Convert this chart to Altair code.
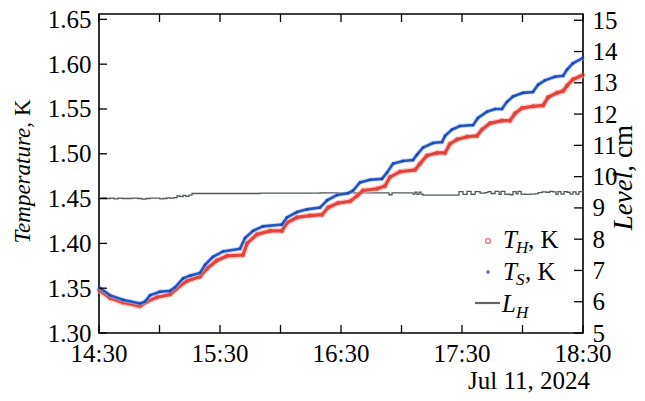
import altair as alt
import pandas as pd

# ---------------- data ----------------
# time axis: minutes after 14:30 on Jul 11, 2024
start_clock_min = 14 * 60 + 30

ts_min = [0, 5.5, 11.9, 20.3, 22.8, 25.3, 30.2, 35.2, 37.7, 41.7, 45.1, 50.1, 52.6, 56.5,
          61.5, 69.9, 72.4, 76.4, 81.3, 90.7, 93.2, 98.2, 103.1, 109.6, 113.1, 118.0, 123.5,
          126.0, 129.4, 134.4, 140.3, 142.8, 145.8, 150.7, 155.7, 157.7, 160.7, 165.6, 170.1,
          171.6, 175.0, 179.0, 185.5, 187.9, 192.4, 196.4, 199.8, 202.3, 205.3, 210.2, 215.2,
          217.7, 221.1, 226.1, 230.1, 232.1, 235.0, 240]
ts_val = [1.351, 1.342, 1.337, 1.333, 1.335, 1.342, 1.346, 1.347, 1.351, 1.361, 1.364, 1.367,
          1.376, 1.385, 1.391, 1.394, 1.406, 1.414, 1.419, 1.421, 1.429, 1.435, 1.438, 1.440,
          1.448, 1.454, 1.456, 1.459, 1.468, 1.471, 1.472, 1.479, 1.489, 1.492, 1.493, 1.499,
          1.507, 1.512, 1.513, 1.520, 1.527, 1.531, 1.532, 1.540, 1.547, 1.550, 1.550, 1.558,
          1.564, 1.568, 1.569, 1.577, 1.582, 1.586, 1.587, 1.594, 1.601, 1.607]

th_min = [0, 5.5, 11.9, 20.3, 23.8, 28.8, 35.2, 38.7, 43.6, 50.1, 53.6, 58.5, 63.5, 71.4, 73.4,
          78.3, 84.8, 90.7, 93.2, 98.2, 104.6, 110.6, 113.6, 118.5, 124.5, 127.9, 130.9, 137.9,
          141.8, 144.3, 149.3, 156.7, 159.2, 162.6, 167.6, 171.6, 174.0, 177.5, 182.5, 187.4,
          189.9, 193.9, 199.8, 203.8, 206.3, 209.8, 215.2, 220.2, 222.7, 227.1, 230.1, 232.1,
          235.0, 240]
th_val = [1.348, 1.339, 1.334, 1.330, 1.335, 1.340, 1.343, 1.350, 1.358, 1.363, 1.372, 1.381,
          1.386, 1.387, 1.400, 1.410, 1.414, 1.414, 1.423, 1.429, 1.431, 1.432, 1.440, 1.445,
          1.447, 1.453, 1.459, 1.461, 1.464, 1.474, 1.480, 1.482, 1.489, 1.498, 1.501, 1.501,
          1.511, 1.516, 1.519, 1.520, 1.527, 1.534, 1.537, 1.537, 1.545, 1.551, 1.553, 1.554,
          1.563, 1.568, 1.570, 1.576, 1.583, 1.588]

lh_min = [0, 2.0, 3.5, 5.5, 7.4, 9.4, 11.4, 13.9, 16.4, 19.3, 21.3, 23.3, 25.3, 27.8, 30.2,
          31.7, 33.7, 35.2, 37.2, 38.7, 40.2, 41.7, 43.1, 44.6, 46.1, 50.1, 65.0, 79.8, 94.7,
          109.6, 124.5, 141.8, 143.8, 145.3, 154.2, 155.7, 156.7, 157.7, 158.7, 159.7, 160.7,
          169.1, 177.5, 178.5, 180.0, 180.5, 182.0, 182.5, 184.0, 184.5, 186.0, 186.5, 188.0,
          189.0, 191.4, 192.9, 194.4, 195.9, 196.4, 197.9, 198.4, 199.4, 200.8, 201.3, 202.8,
          203.8, 205.3, 206.8, 207.8, 209.3, 211.3, 213.7, 216.2, 217.7, 219.7, 221.7, 223.6,
          225.1, 226.6, 227.6, 229.1, 230.6, 232.1, 233.6, 235.0, 236.5, 238.0, 240]
lh_val = [9.31, 9.32, 9.30, 9.31, 9.29, 9.31, 9.30, 9.30, 9.31, 9.30, 9.28, 9.30, 9.31, 9.31,
          9.29, 9.30, 9.32, 9.31, 9.33, 9.38, 9.36, 9.40, 9.37, 9.41, 9.46, 9.46, 9.46, 9.47,
          9.47, 9.48, 9.48, 9.48, 9.42, 9.48, 9.48, 9.44, 9.50, 9.43, 9.50, 9.44, 9.41, 9.41,
          9.41, 9.52, 9.52, 9.43, 9.43, 9.53, 9.53, 9.43, 9.44, 9.52, 9.52, 9.47, 9.49, 9.52,
          9.46, 9.46, 9.53, 9.53, 9.43, 9.53, 9.53, 9.43, 9.44, 9.42, 9.52, 9.45, 9.53, 9.44,
          9.43, 9.44, 9.45, 9.49, 9.51, 9.50, 9.53, 9.51, 9.43, 9.52, 9.44, 9.52, 9.50, 9.44,
          9.51, 9.44, 9.52, 9.50]

temp_ticks = [1.30, 1.35, 1.40, 1.45, 1.50, 1.55, 1.60, 1.65]
level_ticks = [5, 6, 7, 8, 9, 10, 11, 12, 13, 14, 15]
time_tick_min = [0, 30, 60, 90, 120, 150, 180, 210, 240]
time_label_min = [0, 60, 120, 180, 240]
date_text = "Jul 11, 2024"
left_title = ["Temperature,", "K"]
right_title = ["Level,", "cm"]

# ---------------- layout / style ----------------
W, H = 484, 319
FONT = "Liberation Serif"
RED = "#e6423b"
BLUE = "#2356c4"
GRAY = "#4f5858"

df_ts = pd.DataFrame({"m": ts_min, "v": ts_val})
df_th = pd.DataFrame({"m": th_min, "v": th_val})
df_lh = pd.DataFrame({"m": lh_min, "v": lh_val})
df_xt = pd.DataFrame({"m": time_tick_min})
df_xl = pd.DataFrame({"m": time_label_min})
df_tt = pd.DataFrame({"v": temp_ticks})
df_lt = pd.DataFrame({"v": level_ticks})
one = pd.DataFrame({"a": [0]})

xscale = alt.Scale(domain=[0, 240], nice=False, zero=False)
tscale = alt.Scale(domain=[1.30, 1.656], nice=False, zero=False)
lscale = alt.Scale(domain=[5, 15.2], nice=False, zero=False)

clock = f"(datum.m + {start_clock_min})"
time_label_expr = f"floor({clock} / 60) + ':' + (({clock} % 60) < 10 ? '0' : '') + ({clock} % 60)"

taxis = alt.Axis(orient="left", values=temp_ticks, format=".2f", ticks=False,
                 domain=False, grid=False, labelFont=FONT, labelFontSize=25,
                 labelColor="black", labelPadding=8, labelOverlap=False, title=None)
laxis = alt.Axis(orient="right", values=level_ticks, format="d", ticks=False,
                 domain=False, grid=False, labelFont=FONT, labelFontSize=25,
                 labelColor="black", labelPadding=9, labelOverlap=False, title=None)


def X():
    return alt.X("m:Q", scale=xscale, axis=None)


def YT(ax=None):
    return alt.Y("v:Q", scale=tscale, axis=ax)


def YL(ax=None):
    return alt.Y("v:Q", scale=lscale, axis=ax)


# level (drawn first, underneath)
lh_line = alt.Chart(df_lh).mark_line(color=GRAY, strokeWidth=1.3,
                                     interpolate="step-after").encode(x=X(), y=YL(laxis))
right_ticks = alt.Chart(df_lt).mark_rule(color="black", strokeWidth=1.3).encode(
    y=YL(), x=alt.value(W - 9), x2=alt.value(W))

# temperatures
th_halo = alt.Chart(df_th).mark_line(color="#f6b3ad", strokeWidth=6, opacity=0.6).encode(
    x=X(), y=YT(taxis))
th_line = alt.Chart(df_th).mark_line(color=RED, strokeWidth=3.2).encode(x=X(), y=YT())
th_pts = alt.Chart(df_th).mark_point(shape="circle", filled=False, color=RED, size=14,
                                     strokeWidth=1).encode(x=X(), y=YT())
ts_halo = alt.Chart(df_ts).mark_line(color="#a9bfe8", strokeWidth=4.5, opacity=0.6).encode(
    x=X(), y=YT())
ts_line = alt.Chart(df_ts).mark_line(color=BLUE, strokeWidth=2.6).encode(x=X(), y=YT())
ts_pts = alt.Chart(df_ts).mark_point(shape="cross", angle=45, filled=True, color="#1d3fa8",
                                     size=10).encode(x=X(), y=YT())
left_ticks = alt.Chart(df_tt).mark_rule(color="black", strokeWidth=1.3).encode(
    y=YT(), x=alt.value(0), x2=alt.value(8))

# inward frame ticks on x, and the time labels
xt_bottom = alt.Chart(df_xt).mark_rule(color="black", strokeWidth=1.3).encode(
    x=X(), y=alt.value(H - 8), y2=alt.value(H))
xt_top = alt.Chart(df_xt).mark_rule(color="black", strokeWidth=1.3).encode(
    x=X(), y=alt.value(0), y2=alt.value(8))
x_labels = alt.Chart(df_xl).transform_calculate(lab=time_label_expr).mark_text(
    font=FONT, fontSize=25, align="center", baseline="alphabetic", color="black").encode(
    x=X(), y=alt.value(H + 29), text="lab:N")


def txt(s, x, y, size=25, style="normal", align="left", angle=0):
    m = alt.Chart(one).mark_text(text=s, font=FONT, fontSize=size, fontStyle=style,
                                 align=align, baseline="alphabetic", color="black",
                                 angle=angle)
    return m.encode(x=alt.value(x), y=alt.value(y))


# axis titles (mixed italic / upright)
t_left1 = txt(left_title[0], -69, 108, size=23, style="italic", align="right", angle=270)
t_left2 = txt(left_title[1], -69, 102, size=23, style="normal", align="left", angle=270)
t_right1 = txt(right_title[0], 533, 151, size=27, style="italic", align="right", angle=270)
t_right2 = txt(right_title[1], 533, 144, size=27, style="normal", align="left", angle=270)
t_date = txt(date_text, 491, 375, size=25, align="right")

# legend
lg_c = alt.Chart(one).mark_point(shape="circle", filled=False, color="#e0383a", size=24,
                                 strokeWidth=1.3).encode(x=alt.value(389), y=alt.value(227))
lg_x = alt.Chart(one).mark_point(shape="cross", angle=45, filled=True, color="#2b2f8f",
                                 size=16).encode(x=alt.value(389), y=alt.value(258))
lg_l = alt.Chart(one).mark_rule(color="#666666", strokeWidth=2.2).encode(
    x=alt.value(376), x2=alt.value(401), y=alt.value(289))
legend = [
    lg_c, txt("T", 404, 234, style="italic"), txt("H", 417, 239, size=17, style="italic"),
    txt(", K", 429, 234),
    lg_x, txt("T", 404, 266, style="italic"), txt("S", 417, 271, size=17, style="italic"),
    txt(", K", 426, 266),
    lg_l, txt("L", 403, 298, style="italic"), txt("H", 417, 304, size=17, style="italic"),
]

chart = alt.layer(
    lh_line, right_ticks,
    th_halo, th_line, th_pts, ts_halo, ts_line, ts_pts, left_ticks,
    xt_bottom, xt_top, x_labels,
    t_left1, t_left2, t_right1, t_right2, t_date, *legend,
).resolve_scale(y="independent").properties(
    width=W, height=H,
    autosize=alt.AutoSizeParams(type="none"),
    padding={"left": 91, "top": 6, "right": 54, "bottom": 60},
    background="white",
).configure_view(stroke="black", strokeWidth=1.6)

chart.save("out.html", embed_options={"renderer": "svg", "actions": False})
